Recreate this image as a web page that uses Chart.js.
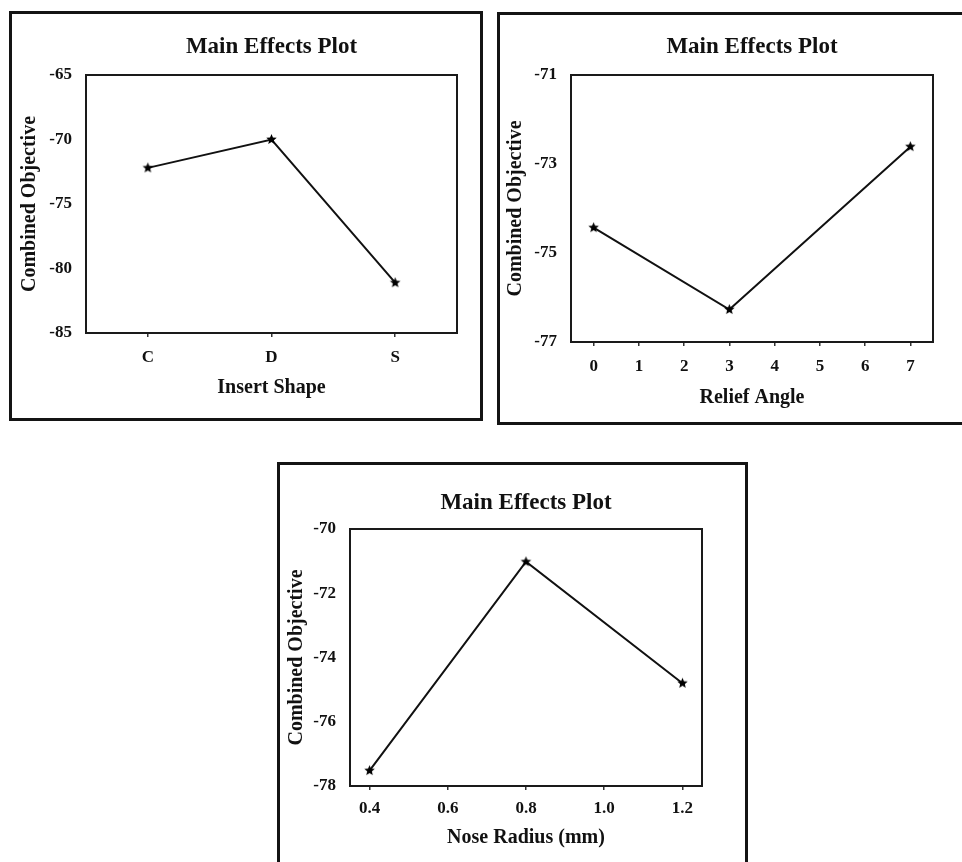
<!DOCTYPE html>
<html><head><meta charset="utf-8">
<script src="https://cdn.jsdelivr.net/npm/chart.js@4.4.0/dist/chart.umd.min.js"></script>
<style>
html,body{margin:0;padding:0;background:#fff;overflow:hidden;width:962px;height:862px;}
.box{position:absolute;border:3px solid #141414;box-sizing:border-box;}
canvas{position:absolute;}
</style></head><body>
<div class="box" style="left:9px;top:11px;width:474px;height:410px"></div>
<div class="box" style="left:497px;top:12px;width:470px;height:413px"></div>
<div class="box" style="left:277px;top:462px;width:471px;height:410px"></div>
<canvas id="c1" width="472" height="408" style="left:10px;top:12px"></canvas>
<canvas id="c2" width="466" height="410" style="left:498px;top:13px"></canvas>
<canvas id="c3" width="469" height="400" style="left:278px;top:463px"></canvas>
<script>
// ---- data ----
const chartTitle = 'Main Effects Plot';
const yTitle = 'Combined Objective';

const shapeCats = ['C', 'D', 'S'];
const shapeVals = [-72.2, -70.0, -81.1];
const shapeYTicks = [-85, -80, -75, -70, -65];

const reliefAngles = [0, 3, 7];
const reliefVals = [-74.43, -76.27, -72.61];
const reliefXTicks = [0, 1, 2, 3, 4, 5, 6, 7];
const reliefYTicks = [-77, -75, -73, -71];

const noseRadii = [0.4, 0.8, 1.2];
const noseVals = [-77.52, -71.02, -74.8];
const noseXTicks = [0.4, 0.6, 0.8, 1.0, 1.2];
const noseYTicks = [-78, -76, -74, -72, -70];

// ---- styling ----
Chart.defaults.font.family = '"Liberation Serif", "Times New Roman", serif';
Chart.defaults.color = '#111';

function starImg(r) {
  const s = Math.ceil(r * 2 + 2);
  const c = document.createElement('canvas');
  c.width = c.height = s;
  const g = c.getContext('2d');
  g.translate(s / 2, s / 2);
  g.beginPath();
  for (let i = 0; i < 10; i++) {
    const rr = i % 2 ? r * 0.45 : r;
    const a = -Math.PI / 2 + i * Math.PI / 5;
    g.lineTo(rr * Math.cos(a), rr * Math.sin(a));
  }
  g.closePath();
  g.fillStyle = '#000';
  g.fill();
  return c;
}
const star = starImg(5.5);

const framePlugin = {
  id: 'frame',
  beforeDatasetsDraw(chart) {
    const { ctx, chartArea: a } = chart;
    ctx.save();
    ctx.strokeStyle = '#1a1a1a';
    ctx.lineWidth = 2;
    ctx.strokeRect(a.left, a.top, a.right - a.left, a.bottom - a.top);
    ctx.restore();
  }
};

function makeChart(id, o) {
  const canvas = document.getElementById(id);
  const W = canvas.width, H = canvas.height;
  const a = o.area;
  const tLH = 23 * 1.2;
  const xCfg = {
    type: o.xType,
    offset: o.xType === 'category',
    grid: { display: true, drawOnChartArea: false, drawTicks: true, tickLength: 4, color: '#333', offset: false, lineWidth: 1.5 },
    border: { display: false },
    ticks: { font: { size: 17, weight: 'bold' }, padding: o.xTickPad, maxRotation: 0, autoSkip: false },
    title: { display: true, text: o.xTitle, font: { size: 20, weight: 'bold' }, padding: { top: 0, bottom: o.xTitlePad } },
    afterFit(s) { s.height = H - a.bottom; }
  };
  if (o.xType === 'linear') {
    xCfg.min = o.xMin; xCfg.max = o.xMax;
    xCfg.afterBuildTicks = s => { s.ticks = o.xTicks.map(v => ({ value: v })); };
    xCfg.ticks.callback = o.xFmt;
  }
  return new Chart(canvas, {
    type: 'line',
    data: {
      labels: o.labels,
      datasets: [{
        data: o.data,
        borderColor: '#111',
        borderWidth: 2,
        tension: 0,
        fill: false,
        pointStyle: star,
        pointRadius: 5,
        pointHoverRadius: 5
      }]
    },
    options: {
      responsive: false,
      animation: false,
      events: [],
      layout: { padding: { left: 0, top: 0, right: W - a.right, bottom: 0 } },
      plugins: {
        legend: { display: false },
        tooltip: { enabled: false },
        title: {
          display: true, text: chartTitle, fullSize: false,
          font: { size: 23, weight: 'bold' }, color: '#111',
          padding: { top: o.titleY - tLH / 2, bottom: a.top - (o.titleY - tLH / 2) - tLH }
        }
      },
      scales: {
        x: xCfg,
        y: {
          type: 'linear',
          min: o.yTicks[0], max: o.yTicks[o.yTicks.length - 1],
          afterBuildTicks: s => { s.ticks = o.yTicks.map(v => ({ value: v })); },
          grid: { display: false, drawTicks: false },
          border: { display: false },
          ticks: { font: { size: 17, weight: 'bold' }, padding: 14, callback: v => String(v) },
          title: { display: true, text: yTitle, font: { size: 20, weight: 'bold' }, padding: { top: o.yTitlePad, bottom: 0 } },
          afterFit(s) { s.width = a.left; }
        }
      }
    },
    plugins: [framePlugin]
  });
}

makeChart('c1', {
  area: { left: 76, top: 63, right: 447, bottom: 321 },
  titleY: 35, yTitlePad: 7.5, xTickPad: 10.8, xTitlePad: 20,
  xType: 'category', labels: shapeCats, data: shapeVals,
  xTitle: 'Insert Shape', yTicks: shapeYTicks
});

makeChart('c2', {
  area: { left: 73, top: 62, right: 435, bottom: 329 },
  titleY: 34, yTitlePad: 6, xTickPad: 10.8, xTitlePad: 13.5,
  xType: 'linear', xMin: -0.5, xMax: 7.5, xTicks: reliefXTicks, xFmt: v => String(v),
  data: reliefAngles.map((x, i) => ({ x: x, y: reliefVals[i] })),
  xTitle: 'Relief Angle', yTicks: reliefYTicks
});

makeChart('c3', {
  area: { left: 72, top: 66, right: 424, bottom: 323 },
  titleY: 40, yTitlePad: 6.5, xTickPad: 8.8, xTitlePad: 13,
  xType: 'linear', xMin: 0.35, xMax: 1.25, xTicks: noseXTicks, xFmt: v => Number(v).toFixed(1),
  data: noseRadii.map((x, i) => ({ x: x, y: noseVals[i] })),
  xTitle: 'Nose Radius (mm)', yTicks: noseYTicks
});
</script>
</body></html>
